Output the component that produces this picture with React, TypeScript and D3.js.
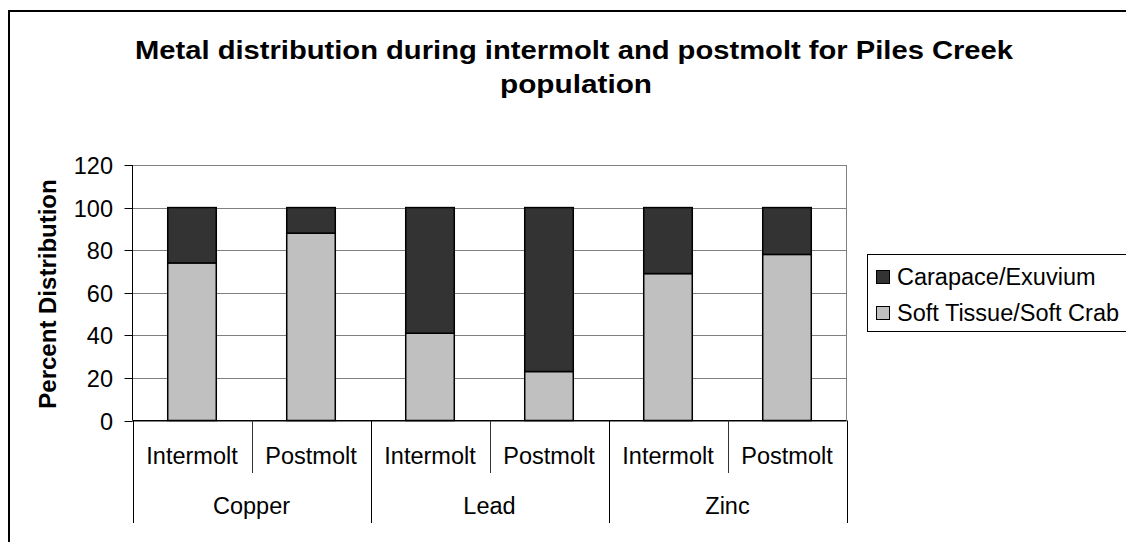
import { useEffect, useRef } from 'react';
import * as d3 from 'd3';

const metals = ['Copper', 'Lead', 'Zinc'];
const phases = ['Intermolt', 'Postmolt'];
// one value per metal x phase, in order
const softTissue = [74, 88, 41, 23, 69, 78];
const carapace = [26, 12, 59, 77, 31, 22];
const yTicks = [0, 20, 40, 60, 80, 100, 120];
const seriesNames = ['Carapace/Exuvium', 'Soft Tissue/Soft Crab'];
const seriesColors = ['#333333', '#c0c0c0'];

const WIDTH = 1126;
const HEIGHT = 542;
const PLOT = { left: 132.5, right: 846.5, top: 165, bottom: 420.5 };
const FONT = '"Liberation Sans", Arial, Helvetica, sans-serif';
const LABEL_SIZE = 23.5;

export default function App() {
  const svgRef = useRef<SVGSVGElement>(null);

  useEffect(() => {
    if (!svgRef.current) return;
    const svg = d3.select(svgRef.current);
    svg.selectAll('*').remove();

    const cells = metals.flatMap((m) => phases.map((p) => `${m}|${p}`));

    const x = d3
      .scaleBand<string>()
      .domain(cells)
      .range([PLOT.left, PLOT.right])
      .padding(0);

    const y = d3
      .scaleLinear()
      .domain([0, 120])
      .range([PLOT.bottom, PLOT.top]);

    const barW = x.bandwidth() * 0.408;

    // outer chart frame (runs off the right and bottom of the picture)
    svg
      .append('rect')
      .attr('x', 9)
      .attr('y', 11)
      .attr('width', 1200)
      .attr('height', 600)
      .attr('fill', 'none')
      .attr('stroke', '#000')
      .attr('stroke-width', 2);

    // Title
    const title = svg
      .append('text')
      .attr('text-anchor', 'middle')
      .attr('font-size', 25.5)
      .attr('font-weight', 'bold')
      .attr('fill', '#000');
    title
      .append('tspan')
      .attr('x', 574)
      .attr('y', 59)
      .attr('textLength', 878)
      .attr('lengthAdjust', 'spacingAndGlyphs')
      .text('Metal distribution during intermolt and postmolt for Piles Creek');
    title
      .append('tspan')
      .attr('x', 576)
      .attr('y', 93)
      .attr('textLength', 152)
      .attr('lengthAdjust', 'spacingAndGlyphs')
      .text('population');

    // gridlines
    svg
      .append('g')
      .selectAll('line')
      .data(yTicks)
      .join('line')
      .attr('x1', PLOT.left)
      .attr('x2', PLOT.right)
      .attr('y1', (d) => Math.round(y(d)) + 0.5)
      .attr('y2', (d) => Math.round(y(d)) + 0.5)
      .attr('stroke', '#808080')
      .attr('stroke-width', 1);

    // plot area right border
    svg
      .append('line')
      .attr('x1', PLOT.right)
      .attr('x2', PLOT.right)
      .attr('y1', PLOT.top)
      .attr('y2', PLOT.bottom)
      .attr('stroke', '#808080');

    // Y axis
    const yAxis = svg.append('g');
    yAxis
      .append('line')
      .attr('x1', PLOT.left)
      .attr('x2', PLOT.left)
      .attr('y1', PLOT.top)
      .attr('y2', PLOT.bottom)
      .attr('stroke', '#000');
    yTicks.forEach((t) => {
      const ty = Math.round(y(t)) + 0.5;
      yAxis
        .append('line')
        .attr('x1', PLOT.left - 8)
        .attr('x2', PLOT.left)
        .attr('y1', ty)
        .attr('y2', ty)
        .attr('stroke', '#000');
      yAxis
        .append('text')
        .attr('x', 113)
        .attr('y', ty + 8)
        .attr('text-anchor', 'end')
        .attr('font-size', LABEL_SIZE)
        .attr('fill', '#000')
        .text(t);
    });

    // Y axis label
    svg
      .append('text')
      .attr('transform', `translate(56,294) rotate(-90)`)
      .attr('text-anchor', 'middle')
      .attr('font-size', 24)
      .attr('font-weight', 'bold')
      .attr('fill', '#000')
      .text('Percent Distribution');

    // Bars: soft tissue at bottom, carapace stacked on top
    const barsG = svg.append('g');
    cells.forEach((c, i) => {
      const bx = x(c)! + (x.bandwidth() - barW) / 2;
      const soft = softTissue[i];
      const cara = carapace[i];
      barsG
        .append('rect')
        .attr('x', bx)
        .attr('y', y(soft))
        .attr('width', barW)
        .attr('height', y(0) - y(soft))
        .attr('fill', seriesColors[1])
        .attr('stroke', '#000')
        .attr('stroke-width', 1.5);
      barsG
        .append('rect')
        .attr('x', bx)
        .attr('y', y(soft + cara))
        .attr('width', barW)
        .attr('height', y(soft) - y(soft + cara))
        .attr('fill', seriesColors[0])
        .attr('stroke', '#000')
        .attr('stroke-width', 1.5);
    });

    // X axis (two tier categories)
    const xAxis = svg.append('g');
    xAxis
      .append('line')
      .attr('x1', PLOT.left)
      .attr('x2', PLOT.right)
      .attr('y1', PLOT.bottom)
      .attr('y2', PLOT.bottom)
      .attr('stroke', '#000');

    const bounds = [...cells.map((c) => x(c)!), PLOT.right];
    bounds.forEach((bx, i) => {
      const major = i % phases.length === 0;
      xAxis
        .append('line')
        .attr('x1', Math.round(bx) + 0.5)
        .attr('x2', Math.round(bx) + 0.5)
        .attr('y1', PLOT.bottom)
        .attr('y2', major ? 523 : 473)
        .attr('stroke', major ? '#000' : '#333');
    });

    cells.forEach((c) => {
      xAxis
        .append('text')
        .attr('x', x(c)! + x.bandwidth() / 2)
        .attr('y', 464)
        .attr('text-anchor', 'middle')
        .attr('font-size', LABEL_SIZE)
        .attr('fill', '#000')
        .text(c.split('|')[1]);
    });

    metals.forEach((m, i) => {
      const first = x(`${m}|${phases[0]}`)!;
      xAxis
        .append('text')
        .attr('x', first + x.bandwidth())
        .attr('y', 514)
        .attr('text-anchor', 'middle')
        .attr('font-size', LABEL_SIZE)
        .attr('fill', '#000')
        .text(metals[i]);
    });

    // Legend
    const legend = svg.append('g');
    legend
      .append('rect')
      .attr('x', 867.5)
      .attr('y', 254.5)
      .attr('width', 300)
      .attr('height', 77)
      .attr('fill', '#fff')
      .attr('stroke', '#000')
      .attr('stroke-width', 1);
    seriesNames.forEach((name, i) => {
      const ly = 277 + i * 36;
      legend
        .append('rect')
        .attr('x', 876.5)
        .attr('y', ly - 6.5)
        .attr('width', 13)
        .attr('height', 13)
        .attr('fill', seriesColors[i])
        .attr('stroke', '#000')
        .attr('stroke-width', 1);
      legend
        .append('text')
        .attr('x', 897)
        .attr('y', ly + 8)
        .attr('font-size', LABEL_SIZE)
        .attr('fill', '#000')
        .text(name);
    });
  }, []);

  return (
    <svg
      ref={svgRef}
      width={WIDTH}
      height={HEIGHT}
      style={{ position: 'absolute', left: 0, top: 0, fontFamily: FONT, background: '#fff' }}
    />
  );
}
